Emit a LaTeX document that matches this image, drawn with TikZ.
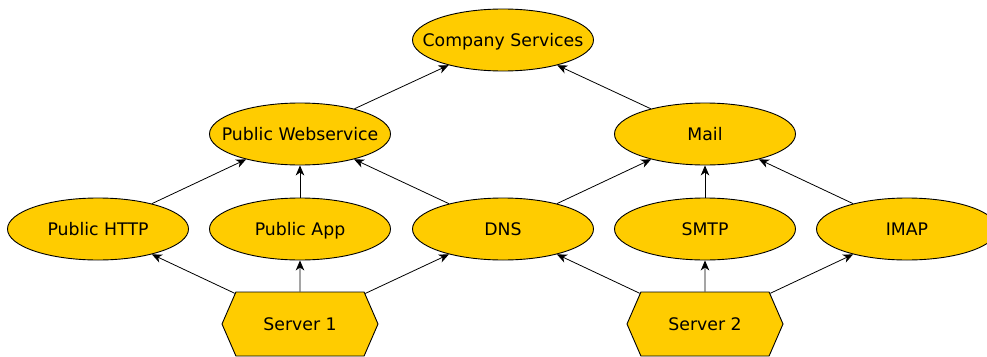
\documentclass[tikz,border=0pt]{standalone}
\usepackage{fontspec}
\setmainfont{DejaVu Sans}
\usetikzlibrary{shapes.geometric,shapes.symbols,arrows.meta}
\definecolor{gold}{HTML}{FFCC00}
\begin{document}
\begin{tikzpicture}[x=1pt,y=-1pt,
  svc/.style={ellipse,draw=black,fill=gold,line width=0.9pt,minimum width=181pt,minimum height=62pt,inner sep=0pt,
    text height=12.6pt,text depth=0pt,font=\fontsize{17.3}{20}\selectfont,
    execute at begin node={\hbox to 0pt\bgroup\hss},execute at end node={\hss\egroup}},
  host/.style={signal,signal to=west and east,signal pointer angle=133,draw=black,fill=gold,line width=0.9pt,minimum width=156pt,minimum height=64pt,inner sep=0pt,
    text height=12.6pt,text depth=0pt,font=\fontsize{17.3}{20}\selectfont},
  link/.style={line width=0.8pt,-{Stealth[length=10pt,width=8.5pt,inset=3pt]}}]

  \useasboundingbox (0,0) rectangle (987,356);

  \node[svc] (cs) at (503, 40) {Company Services};
  \node[svc] (pw) at (300, 134) {Public Webservice};
  \node[svc] (mail) at (705, 134) {Mail};

  \node[svc] (http) at (98, 229) {Public HTTP};
  \node[svc] (app) at (300, 229) {Public App};
  \node[svc] (dns) at (503, 229) {DNS};
  \node[svc] (smtp) at (705, 229) {SMTP};
  \node[svc] (imap) at (907, 229) {IMAP};

  \node[host] (srva) at (300, 324) {Server 1};
  \node[host] (srvb) at (705, 324) {Server 2};

  \draw[link] (pw) -- (cs);
  \draw[link] (mail) -- (cs);

  \draw[link] (http) -- (pw);
  \draw[link] (app) -- (pw);
  \draw[link] (dns) -- (pw);
  \draw[link] (dns) -- (mail);
  \draw[link] (smtp) -- (mail);
  \draw[link] (imap) -- (mail);

  \draw[link] (srva) -- (http);
  \draw[link] (srva) -- (app);
  \draw[link] (srva) -- (dns);
  \draw[link] (srvb) -- (dns);
  \draw[link] (srvb) -- (smtp);
  \draw[link] (srvb) -- (imap);
\end{tikzpicture}
\end{document}
